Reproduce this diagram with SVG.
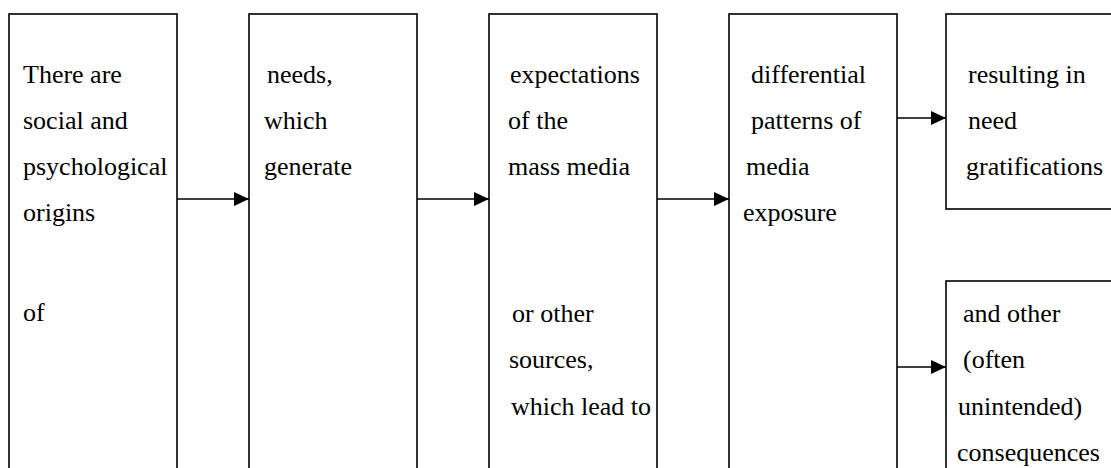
<svg xmlns="http://www.w3.org/2000/svg" width="1111" height="468" viewBox="0 0 1111 468">
<style>
.box{fill:#fff;stroke:#000;stroke-width:1.6}
.t{font-size:26px;fill:#000}
.c{stroke:#000;stroke-width:1.6;fill:none}
</style>
<defs>
<marker id="ah" markerUnits="userSpaceOnUse" markerWidth="16" markerHeight="16" refX="15" refY="7" orient="auto">
<path d="M0,0 L15,7 L0,14 Z" fill="#000"/>
</marker>
</defs>
<rect width="1111" height="468" fill="#fff"/>
<g font-family="'Liberation Serif', 'DejaVu Serif', serif">
<g id="n1">
<rect class="box" x="9" y="14" width="168" height="500"/>
<text class="t" x="23" y="83">There are</text>
<text class="t" x="23" y="129">social and</text>
<text class="t" x="23" y="175">psychological</text>
<text class="t" x="23" y="221">origins</text>
<text class="t" x="23" y="321">of</text>
</g>
<g id="n2">
<rect class="box" x="249" y="14" width="168" height="500"/>
<text class="t" x="267" y="83">needs,</text>
<text class="t" x="264" y="129">which</text>
<text class="t" x="264" y="175">generate</text>
</g>
<g id="n3">
<rect class="box" x="489" y="14" width="168" height="500"/>
<text class="t" x="510" y="83">expectations</text>
<text class="t" x="508" y="129">of the</text>
<text class="t" x="508" y="175">mass media</text>
<text class="t" x="512" y="322">or other</text>
<text class="t" x="509" y="368">sources,</text>
<text class="t" x="511" y="415">which lead to</text>
</g>
<g id="n4">
<rect class="box" x="729" y="14" width="168" height="500"/>
<text class="t" x="751" y="83">differential</text>
<text class="t" x="751" y="129">patterns of</text>
<text class="t" x="746" y="175">media</text>
<text class="t" x="743" y="221">exposure</text>
</g>
<g id="n5">
<rect class="box" x="946" y="14" width="200" height="195"/>
<text class="t" x="968" y="83">resulting in</text>
<text class="t" x="968" y="129">need</text>
<text class="t" x="966" y="175">gratifications</text>
</g>
<g id="n6">
<rect class="box" x="946" y="281" width="200" height="250"/>
<text class="t" x="963" y="322">and other</text>
<text class="t" x="963" y="368">(often</text>
<text class="t" x="958" y="415">unintended)</text>
<text class="t" x="957" y="461">consequences</text>
</g>
</g>
<g id="connectors">
<line class="c" x1="177" y1="199" x2="249" y2="199" marker-end="url(#ah)"/>
<line class="c" x1="417" y1="199" x2="489" y2="199" marker-end="url(#ah)"/>
<line class="c" x1="657" y1="199" x2="729" y2="199" marker-end="url(#ah)"/>
<line class="c" x1="897" y1="118" x2="946" y2="118" marker-end="url(#ah)"/>
<line class="c" x1="897" y1="367" x2="946" y2="367" marker-end="url(#ah)"/>
</g>
</svg>
